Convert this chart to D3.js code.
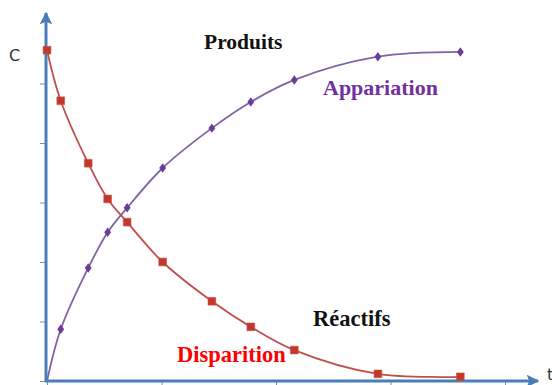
<!DOCTYPE html>
<html><head><meta charset="utf-8">
<script src="https://cdn.jsdelivr.net/npm/d3@7"></script>
<style>body{margin:0;background:#fff}svg{display:block}</style>
</head><body>
<svg id="c" width="552" height="385"></svg>
<script>
// Data
const times = [0, 1.2, 3.6, 5.3, 7.0, 10.1, 14.4, 17.8, 21.6, 28.9, 36.1];
const reactifs = [5.56, 4.71, 3.66, 3.06, 2.67, 2.0, 1.34, 0.91, 0.52, 0.12, 0.07];
const produits = [0, 0.87, 1.90, 2.50, 2.91, 3.58, 4.25, 4.69, 5.06, 5.45, 5.53];
const xTicks = [0, 10, 20, 30, 40];
const yTicks = [0, 1, 2, 3, 4, 5];

const svg = d3.select("#c");
const x = d3.scaleLinear().domain([0, 40]).range([47, 505]);
const y = d3.scaleLinear().domain([0, 5]).range([381, 83.5]);
const axisColor = "#4a7ebb";

const defs = svg.append("defs");
defs.append("marker").attr("id", "arr").attr("viewBox", "0 0 10 10")
  .attr("refX", 9).attr("refY", 5).attr("markerWidth", 4.2).attr("markerHeight", 4.2)
  .attr("markerUnits", "strokeWidth").attr("orient", "auto")
  .append("path").attr("d", "M0,0 L10,5 L0,10 L2,5 Z").attr("fill", axisColor);

// tick marks
const gx = svg.append("g").attr("transform", `translate(0,${y(0)})`)
  .call(d3.axisBottom(x).tickValues(xTicks).tickSize(6).tickFormat(""));
gx.select(".domain").remove();
gx.selectAll(".tick line").attr("stroke", "#8a8a8a").attr("stroke-width", 1);
const gy = svg.append("g").attr("transform", `translate(46,0)`)
  .call(d3.axisLeft(y).tickValues(yTicks).tickSize(6).tickFormat(""));
gy.select(".domain").remove();
gy.selectAll(".tick line").attr("stroke", "#8a8a8a").attr("stroke-width", 1);

// curves
const lineR = d3.line().x((d, i) => x(times[i])).y(d => y(d)).curve(d3.curveCatmullRom.alpha(0.5));
svg.append("path").datum(reactifs).attr("d", lineR).attr("fill", "none")
  .attr("stroke", "#c0504d").attr("stroke-width", 1.8);
svg.append("path").datum(produits).attr("d", lineR).attr("fill", "none")
  .attr("stroke", "#8064a2").attr("stroke-width", 1.8);

// axes lines with arrows
svg.append("line").attr("x1", 46).attr("y1", y(0) + 1).attr("x2", 46).attr("y2", 13)
  .attr("stroke", axisColor).attr("stroke-width", 3).attr("marker-end", "url(#arr)");
svg.append("line").attr("x1", 45).attr("y1", y(0)).attr("x2", 538).attr("y2", y(0))
  .attr("stroke", axisColor).attr("stroke-width", 3).attr("marker-end", "url(#arr)");

// markers
svg.append("g").selectAll("path").data(reactifs).join("path")
  .attr("transform", (d, i) => `translate(${x(times[i])},${y(d)})`)
  .attr("d", d3.symbol(d3.symbolSquare, 60)).attr("fill", "#c0392b").attr("stroke", "#d05050").attr("stroke-width", 0.6);
svg.append("g").selectAll("path").data(produits.slice(1)).join("path")
  .attr("transform", (d, i) => `translate(${x(times[i + 1])},${y(d)}) scale(1.25,1)`)
  .attr("d", d3.symbol(d3.symbolDiamond, 26)).attr("fill", "#6a3d9a");

// labels
const serif = "'Liberation Serif','Times New Roman',serif";
function label(t, px, py, col, fs) {
  svg.append("text").attr("x", px).attr("y", py).text(t)
    .attr("font-family", serif).attr("font-weight", "bold").attr("font-size", fs).attr("fill", col);
}
label("Produits", 204, 49, "#111", 21.5);
label("Appariation", 323, 95, "#7030a0", 22);
label("Réactifs", 313, 326, "#111", 22.5);
label("Disparition", 177, 362, "#ff0000", 22.5);
svg.append("text").attr("x", 9).attr("y", 61).text("C")
  .attr("font-family", "'DejaVu Sans',sans-serif").attr("font-size", 16).attr("fill", "#333");
svg.append("text").attr("x", 547).attr("y", 380).text("t")
  .attr("font-family", "'DejaVu Sans',sans-serif").attr("font-size", 16).attr("fill", "#333");
</script>
</body></html>
